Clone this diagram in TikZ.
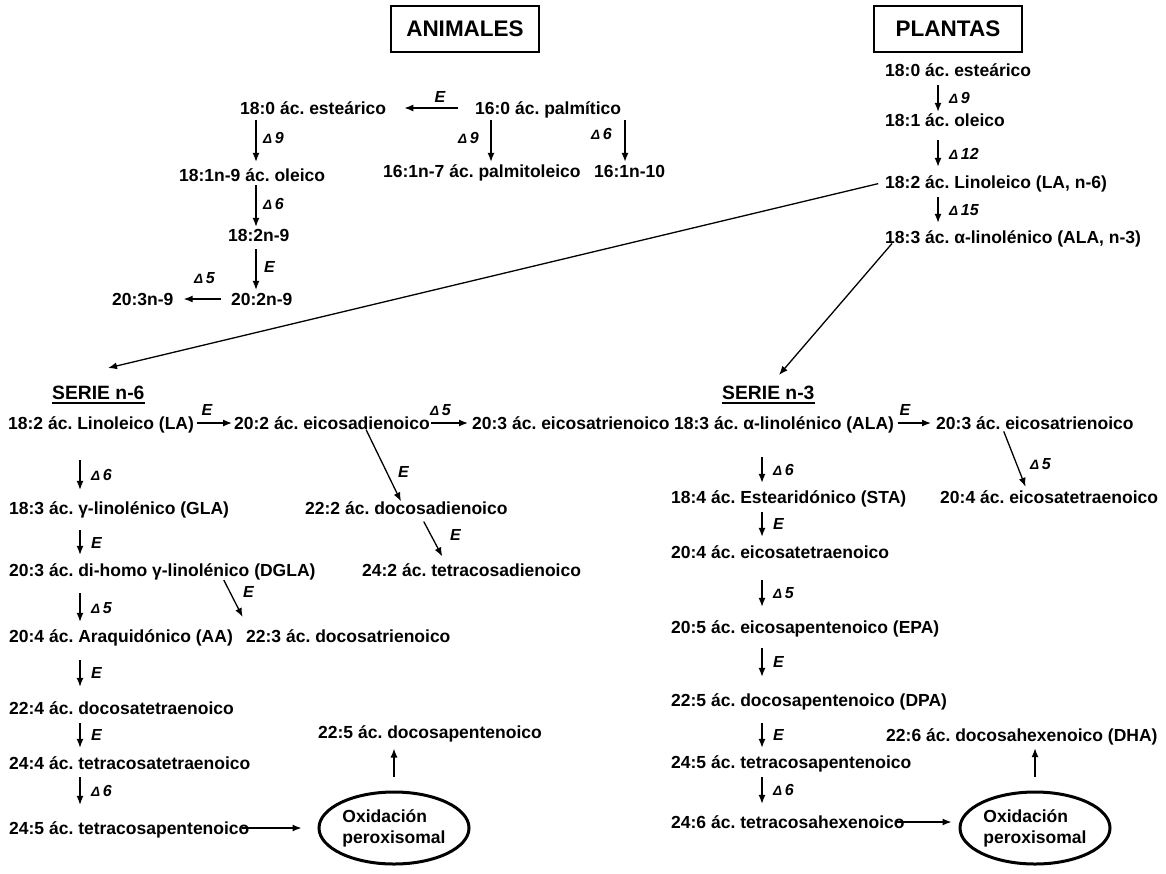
\documentclass[tikz,border=0pt]{standalone}
\usepackage{fontspec}
\setmainfont{Liberation Sans}
\usetikzlibrary{arrows.meta,shapes.geometric}
\newcommand{\Dlt}[1]{{\fontsize{13.5}{13.5}\selectfont Δ}\,#1}
\begin{document}
\frenchspacing
\begin{tikzpicture}[x=1pt,y=-1pt,
  txt/.style={anchor=west, inner sep=0pt, text height=12.6pt, text depth=0pt, font=\bfseries\fontsize{17.5}{20}\selectfont},
  serie/.style={anchor=west, inner sep=0pt, text height=13.8pt, text depth=0pt, font=\bfseries\fontsize{19.3}{21}\selectfont},
  lbl/.style={anchor=west, inner sep=0pt, font=\bfseries\itshape\fontsize{16}{17}\selectfont},
  arr/.style={line width=1.3pt, -{Latex[length=9pt,width=7pt]}},
  titlebox/.style={draw, line width=2.6pt, inner sep=0pt, minimum width=148pt, minimum height=46pt, font=\bfseries\fontsize{22.5}{24}\selectfont},
  oval/.style={ellipse, draw, line width=3pt, inner sep=0pt, minimum width=150pt, minimum height=72pt, align=left, font=\bfseries\fontsize{17.5}{21}\selectfont}
]
\useasboundingbox (0,0) rectangle (1166,873);

% ---------- titles
\node[titlebox] (anim) at (465,29) {ANIMALES};
\node[titlebox] (plan) at (948,29) {PLANTAS};

% ---------- animales
\node[txt] (a180) at (240,108) {18:0 ác. esteárico};
\node[txt] (a160) at (475,108) {16:0 ác. palmítico};
\node[txt] (a181) at (179,175) {18:1n-9 ác. oleico};
\node[txt] (a161a) at (383,171) {16:1n-7 ác. palmitoleico};
\node[txt] (a161b) at (594,171) {16:1n-10};
\node[txt] (a182) at (228,235) {18:2n-9};
\node[txt] (a202) at (231,299) {20:2n-9};
\node[txt] (a203) at (112,299) {20:3n-9};

\draw[arr, shorten <=17pt, shorten >=18pt] (a160.west) -- (a180.east);
\node[lbl, anchor=center] at (440,97) {E};
\draw[arr, shorten <=5.7pt, shorten >=6.7pt] (a180.south -| 256,0) -- (a181.north -| 256,0);
\node[lbl] at (263,138) {\Dlt{9}};
\draw[arr, shorten <=3.7pt, shorten >=1.7pt] (a181.south -| 256,0) -- (a182.north -| 256,0);
\node[lbl] at (263,204) {\Dlt{6}};
\draw[arr, shorten <=7.7pt, shorten >=2.7pt] (a182.south -| 256,0) -- (a202.north -| 256,0);
\node[lbl] at (264,267) {E};
\draw[arr, shorten <=10pt, shorten >=10pt] (a202.west) -- (a203.east);
\node[lbl] at (194,278) {\Dlt{5}};
\draw[arr, shorten <=5.7pt, shorten >=2.7pt] (a160.south -| 491,0) -- (a161a.north -| 491,0);
\node[lbl] at (458,138) {\Dlt{9}};
\draw[arr, shorten <=5.7pt, shorten >=2.7pt] (a160.south -| 625,0) -- (a161b.north -| 625,0);
\node[lbl] at (591,134) {\Dlt{6}};

% ---------- plantas
\node[txt] (p180) at (885,70) {18:0 ác. esteárico};
\node[txt] (p181) at (885,120) {18:1 ác. oleico};
\node[txt] (pLA) at (885,182) {18:2 ác. Linoleico (LA, n-6)};
\node[txt] (pALA) at (885,237) {18:3 ác. α-linolénico (ALA, n-3)};
\draw[arr, shorten <=8.7pt, shorten >=1.7pt] (p180.south -| 938,0) -- (p181.north -| 938,0);
\node[lbl] at (949,98) {\Dlt{9}};
\draw[arr, shorten <=13.7pt, shorten >=8.7pt] (p181.south -| 938,0) -- (pLA.north -| 938,0);
\node[lbl] at (949,154) {\Dlt{12}};
\draw[arr, shorten <=8.7pt, shorten >=7.7pt] (pLA.south -| 938,0) -- (pALA.north -| 938,0);
\node[lbl] at (949,210) {\Dlt{15}};

% ---------- series headings
\node[serie] (s6) at (52,393) {SERIE n-6};
\node[serie] (s3) at (722,393) {SERIE n-3};
\draw[line width=1.4pt] ([yshift=-3pt]s6.south west) -- ([yshift=-3pt]s6.south east);
\draw[line width=1.4pt] ([yshift=-3pt]s3.south west) -- ([yshift=-3pt]s3.south east);
\coordinate (t6) at (108,368);
\coordinate (t3) at (779,375);
\draw[arr, shorten <=7pt] (pLA.west) -- (t6);
\draw[arr] (pALA.south -| 892,0) -- (t3);

% ---------- serie n-6
\node[txt] (LA6) at (8,423) {18:2 ác. Linoleico (LA)};
\node[txt] (EDA) at (234,423) {20:2 ác. eicosadienoico};
\node[txt] (ETA6) at (472,423) {20:3 ác. eicosatrienoico};
\node[txt] (GLA) at (9,508) {18:3 ác. γ-linolénico (GLA)};
\node[txt] (DDA) at (305,508) {22:2 ác. docosadienoico};
\node[txt] (DGLA) at (9,570) {20:3 ác. di-homo γ-linolénico (DGLA)};
\node[txt] (TDA) at (362,570) {24:2 ác. tetracosadienoico};
\node[txt] (AA) at (9,636) {20:4 ác. Araquidónico (AA)};
\node[txt] (DTA) at (246,636) {22:3 ác. docosatrienoico};
\node[txt] (DTTA) at (9,708) {22:4 ác. docosatetraenoico};
\node[txt] (TTA) at (9,763) {24:4 ác. tetracosatetraenoico};
\node[txt] (TPA6) at (9,828) {24:5 ác. tetracosapentenoico};
\node[txt] (DPA6) at (318,732) {22:5 ác. docosapentenoico};
\node[oval] (ox6) at (394,828) {Oxidación\\peroxisomal};

\draw[arr, shorten <=3.3pt, shorten >=2pt] (LA6.east) -- (EDA.west);
\node[lbl, anchor=center] at (207,410) {E};
\draw[arr, shorten <=1.5pt, shorten >=4pt] (EDA.east) -- (ETA6.west);
\node[lbl] at (430,410) {\Dlt{5}};
\draw[arr] (EDA.south -| 366,0) -- (DDA.north -| 401,0);
\node[lbl] at (398,472) {E};
\draw[arr, shorten <=8pt, shorten >=8pt] (DDA.south -| 420,0) -- (TDA.north -| 446,0);
\node[lbl] at (450,535) {E};
\draw[arr, shorten <=4pt, shorten >=14pt] (DGLA.south -| 222,0) -- (DTA.north -| 249,0);
\node[lbl] at (243,592) {E};

\draw[arr, shorten <=30.7pt, shorten >=11.7pt] (LA6.south -| 80,0) -- (GLA.north -| 80,0);
\node[lbl] at (91,475) {\Dlt{6}};
\draw[arr, shorten <=15.7pt, shorten >=8.7pt] (GLA.south -| 80,0) -- (DGLA.north -| 80,0);
\node[lbl] at (91,543) {E};
\draw[arr, shorten <=16.7pt, shorten >=7.7pt] (DGLA.south -| 80,0) -- (AA.north -| 80,0);
\node[lbl] at (91,608) {\Dlt{5}};
\draw[arr, shorten <=17.7pt, shorten >=14.7pt] (AA.south -| 80,0) -- (DTTA.north -| 80,0);
\node[lbl] at (91,673) {E};
\draw[arr, shorten <=8.7pt, shorten >=8.7pt] (DTTA.south -| 80,0) -- (TTA.north -| 80,0);
\node[lbl] at (91,735) {E};
\draw[arr, shorten <=7.7pt, shorten >=16.7pt] (TTA.south -| 80,0) -- (TPA6.north -| 80,0);
\node[lbl] at (91,791) {\Dlt{6}};

\draw[arr, shorten <=-8pt, shorten >=16pt] (TPA6.east) -- (TPA6.east -| ox6.west);
\draw[arr, shorten <=14pt, shorten >=10pt] (ox6.north) -- (DPA6.south -| ox6.north);

% ---------- serie n-3
\node[txt] (ALA3) at (674,423) {18:3 ác. α-linolénico (ALA)};
\node[txt] (ETA3) at (936,423) {20:3 ác. eicosatrienoico};
\node[txt] (ETE3) at (940,497) {20:4 ác. eicosatetraenoico};
\node[txt] (STA) at (671,497) {18:4 ác. Estearidónico (STA)};
\node[txt] (ETEb) at (671,552) {20:4 ác. eicosatetraenoico};
\node[txt] (EPA) at (671,627) {20:5 ác. eicosapentenoico (EPA)};
\node[txt] (DPA) at (671,700) {22:5 ác. docosapentenoico (DPA)};
\node[txt] (TPA3) at (671,762) {24:5 ác. tetracosapentenoico};
\node[txt] (THA) at (671,822) {24:6 ác. tetracosahexenoico};
\node[txt] (DHA) at (886,735) {22:6 ác. docosahexenoico (DHA)};
\node[oval] (ox3) at (1035,828) {Oxidación\\peroxisomal};

\draw[arr, shorten <=3.4pt, shorten >=5pt] (ALA3.east) -- (ETA3.west);
\node[lbl, anchor=center] at (905,410) {E};
\draw[arr, shorten <=2pt, shorten >=4pt] (ETA3.south -| 1003,0) -- (ETE3.north -| 1027,0);
\node[lbl] at (1030,464) {\Dlt{5}};

\draw[arr, shorten <=27.7pt, shorten >=7.7pt] (ALA3.south -| 762,0) -- (STA.north -| 762,0);
\node[lbl] at (773,470) {\Dlt{6}};
\draw[arr, shorten <=8.7pt, shorten >=8.7pt] (STA.south -| 762,0) -- (ETEb.north -| 762,0);
\node[lbl] at (773,524) {E};
\draw[arr, shorten <=21.7pt, shorten >=13.7pt] (ETEb.south -| 762,0) -- (EPA.north -| 762,0);
\node[lbl] at (773,593) {\Dlt{5}};
\draw[arr, shorten <=14.7pt, shorten >=16.7pt] (EPA.south -| 762,0) -- (DPA.north -| 762,0);
\node[lbl] at (773,662) {E};
\draw[arr, shorten <=16.7pt, shorten >=7.7pt] (DPA.south -| 762,0) -- (TPA3.north -| 762,0);
\node[lbl] at (773,735) {E};
\draw[arr, shorten <=8.7pt, shorten >=11.7pt] (TPA3.south -| 762,0) -- (THA.north -| 762,0);
\node[lbl] at (773,790) {\Dlt{6}};

\draw[arr, shorten <=-8pt, shorten >=7pt] (THA.east) -- (THA.east -| ox3.west);
\draw[arr, shorten <=14pt, shorten >=6.7pt] (ox3.north) -- (DHA.south -| ox3.north);
\end{tikzpicture}
\end{document}
